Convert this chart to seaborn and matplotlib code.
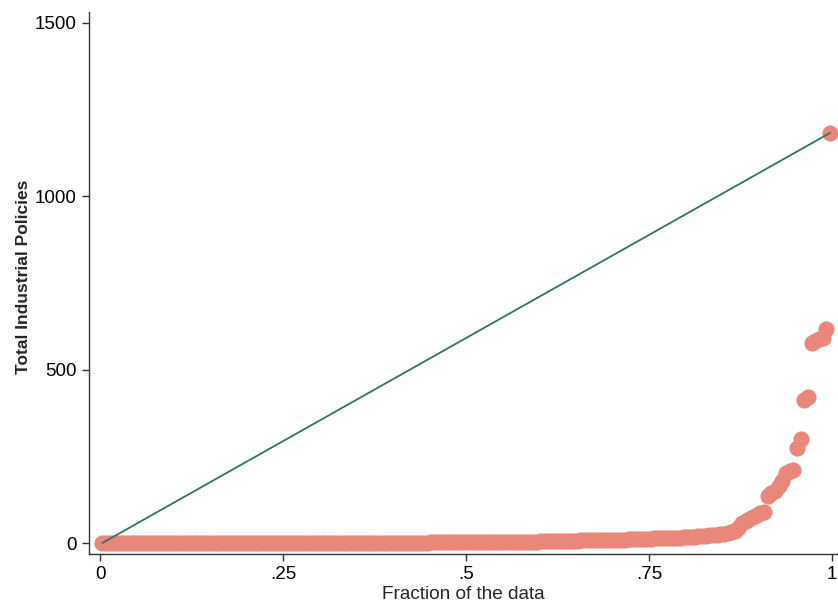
import numpy as np
import pandas as pd
import matplotlib
matplotlib.use("Agg")
import matplotlib.pyplot as plt
import seaborn as sns

sns.set_style("ticks")
plt.rcParams["font.family"] = ["Liberation Sans", "DejaVu Sans"]

# Sorted values of total industrial policies
low_values = [0] * 80 + [1] * 10 + [2] * 10 + [3] * 10 + [4] * 10
mid_values = [5, 5, 5, 6, 6, 6, 6, 7, 7, 7,
              7, 8, 8, 8, 8, 9, 9, 9, 9, 9,
              10, 10, 10, 10, 11, 11, 11, 11, 12, 12,
              12, 13, 13, 13, 14, 14, 14, 15, 15, 16,
              16, 17, 18, 19, 20, 21, 22, 23, 24, 25,
              27, 29, 32, 36]
tail_values = [42, 58, 64, 70, 75, 82, 86, 90, 135, 143, 150, 165, 180,
               203, 207, 210, 275, 300, 413, 420, 577, 582, 588, 592, 617, 1182]

values = np.array(low_values + mid_values + tail_values)
n = len(values)
fraction = (np.arange(1, n + 1) - 0.5) / n
df = pd.DataFrame({"fraction": fraction, "policies": values})

# reference line from min to max
ref = pd.DataFrame({"fraction": [fraction[0], fraction[-1]],
                    "policies": [values.min(), values.max()]})

fig = plt.figure(figsize=(8.38, 6.06), dpi=100)
ax = fig.add_axes([0.1058, 0.0858, 0.8942, 0.8949])

sns.scatterplot(data=df, x="fraction", y="policies", ax=ax,
                color="#E9877A", s=135, linewidth=0, alpha=1, zorder=2)
sns.lineplot(data=ref, x="fraction", y="policies", ax=ax,
             color="#2F7468", linewidth=1.3, zorder=3)

ax.set_xlim(-0.0161, 1.0086)
ax.set_ylim(-31.7, 1531.7)
ax.set_xticks([0, 0.25, 0.5, 0.75, 1])
ax.set_xticklabels(["0", ".25", ".5", ".75", "1"])
ax.set_yticks([0, 500, 1000, 1500])
ax.set_yticklabels(["0", "500", "1000", "1500"])
ax.tick_params(axis="both", labelsize=13.5, length=5, width=1, colors="#333333",
               labelcolor="black")
for side in ["left", "bottom"]:
    ax.spines[side].set_color("#333333")
    ax.spines[side].set_linewidth(1)
sns.despine(ax=ax)

ax.set_xlabel("Fraction of the data", fontsize=13.7, labelpad=2)
ax.set_ylabel("Total Industrial Policies", fontsize=12.5, fontweight="bold", labelpad=3)
ax.yaxis.set_label_coords(-0.077, 0.511)
ax.grid(False)

fig.savefig("out.png", dpi=100)
